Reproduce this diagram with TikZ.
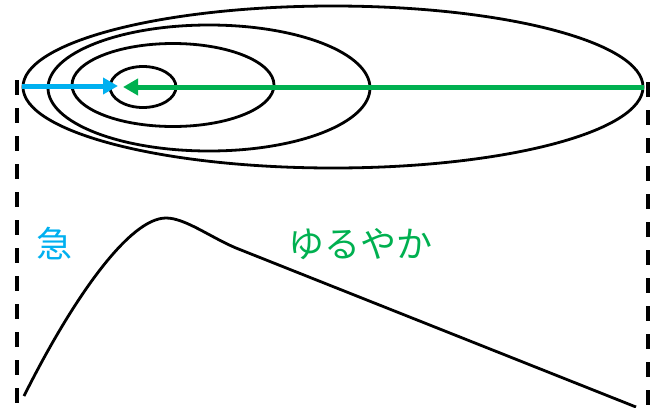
\documentclass[tikz,border=0pt]{standalone}
\usepackage{fontspec}
\newfontfamily\jpfont{Noto Sans CJK JP}
\usepackage{tikz}
\usetikzlibrary{shapes.geometric,arrows.meta,positioning}
\definecolor{fastblue}{RGB}{0,176,240}
\definecolor{slowgreen}{RGB}{0,176,80}
\tikzstyle{orbit} = [ellipse, draw=black, line width=2.8pt, inner sep=0pt]
\tikzstyle{arrow} = [line width=5pt, -{Triangle[length=15pt,width=16pt]}]
\tikzstyle{guide} = [line width=3.5pt, dash pattern=on 15pt off 13pt]
\tikzstyle{label_jp} = [font=\jpfont\fontsize{36}{36}\selectfont, inner sep=0pt]

\begin{document}
\begin{tikzpicture}[x=1pt, y=-1pt]
\useasboundingbox (0,0) rectangle (660,407);

% ── Nested ellipses ────
\node[orbit, minimum width=620pt, minimum height=162pt] (outer) at (333,87) {};
\node[orbit, minimum width=322pt, minimum height=126pt] (second) at (209,88) {};
\node[orbit, minimum width=202pt, minimum height=83pt] (third) at (173,85) {};
\node[orbit, minimum width=66pt, minimum height=41pt] (inner) at (143,87) {};

% ── Arrow ends ────
\coordinate (blue_end) at (118,86);
\coordinate (green_end) at (123,87);

% ── Arrows ────
\draw[arrow, fastblue] (outer.west |- blue_end) -- (blue_end);
\draw[arrow, slowgreen] (outer.east) -- (green_end);

% ── Guides ────
\coordinate (left_top) at (17,80);
\coordinate (left_bot) at (17,407);
\coordinate (right_top) at (648,82);
\coordinate (right_bot) at (648,407);
\draw[guide] (left_top) -- (left_bot);
\draw[guide] (right_top) -- (right_bot);

% ── Curve ────
\coordinate (start) at (24,396);
\coordinate (peak) at (166,218);
\coordinate (bend) at (236,248);
\coordinate (finish) at (636,407);
\draw[line width=2.8pt] (start) .. controls (74,296) and (130,218) .. (peak)
    .. controls (185,218) and (210,237) .. (bend) -- (finish);

% ── Labels ────
\node[label_jp, text=fastblue] (fast) at (54,244) {急};
\node[label_jp, text=slowgreen] (slow) at (360,244) {ゆるやか};

\end{tikzpicture}
\end{document}
